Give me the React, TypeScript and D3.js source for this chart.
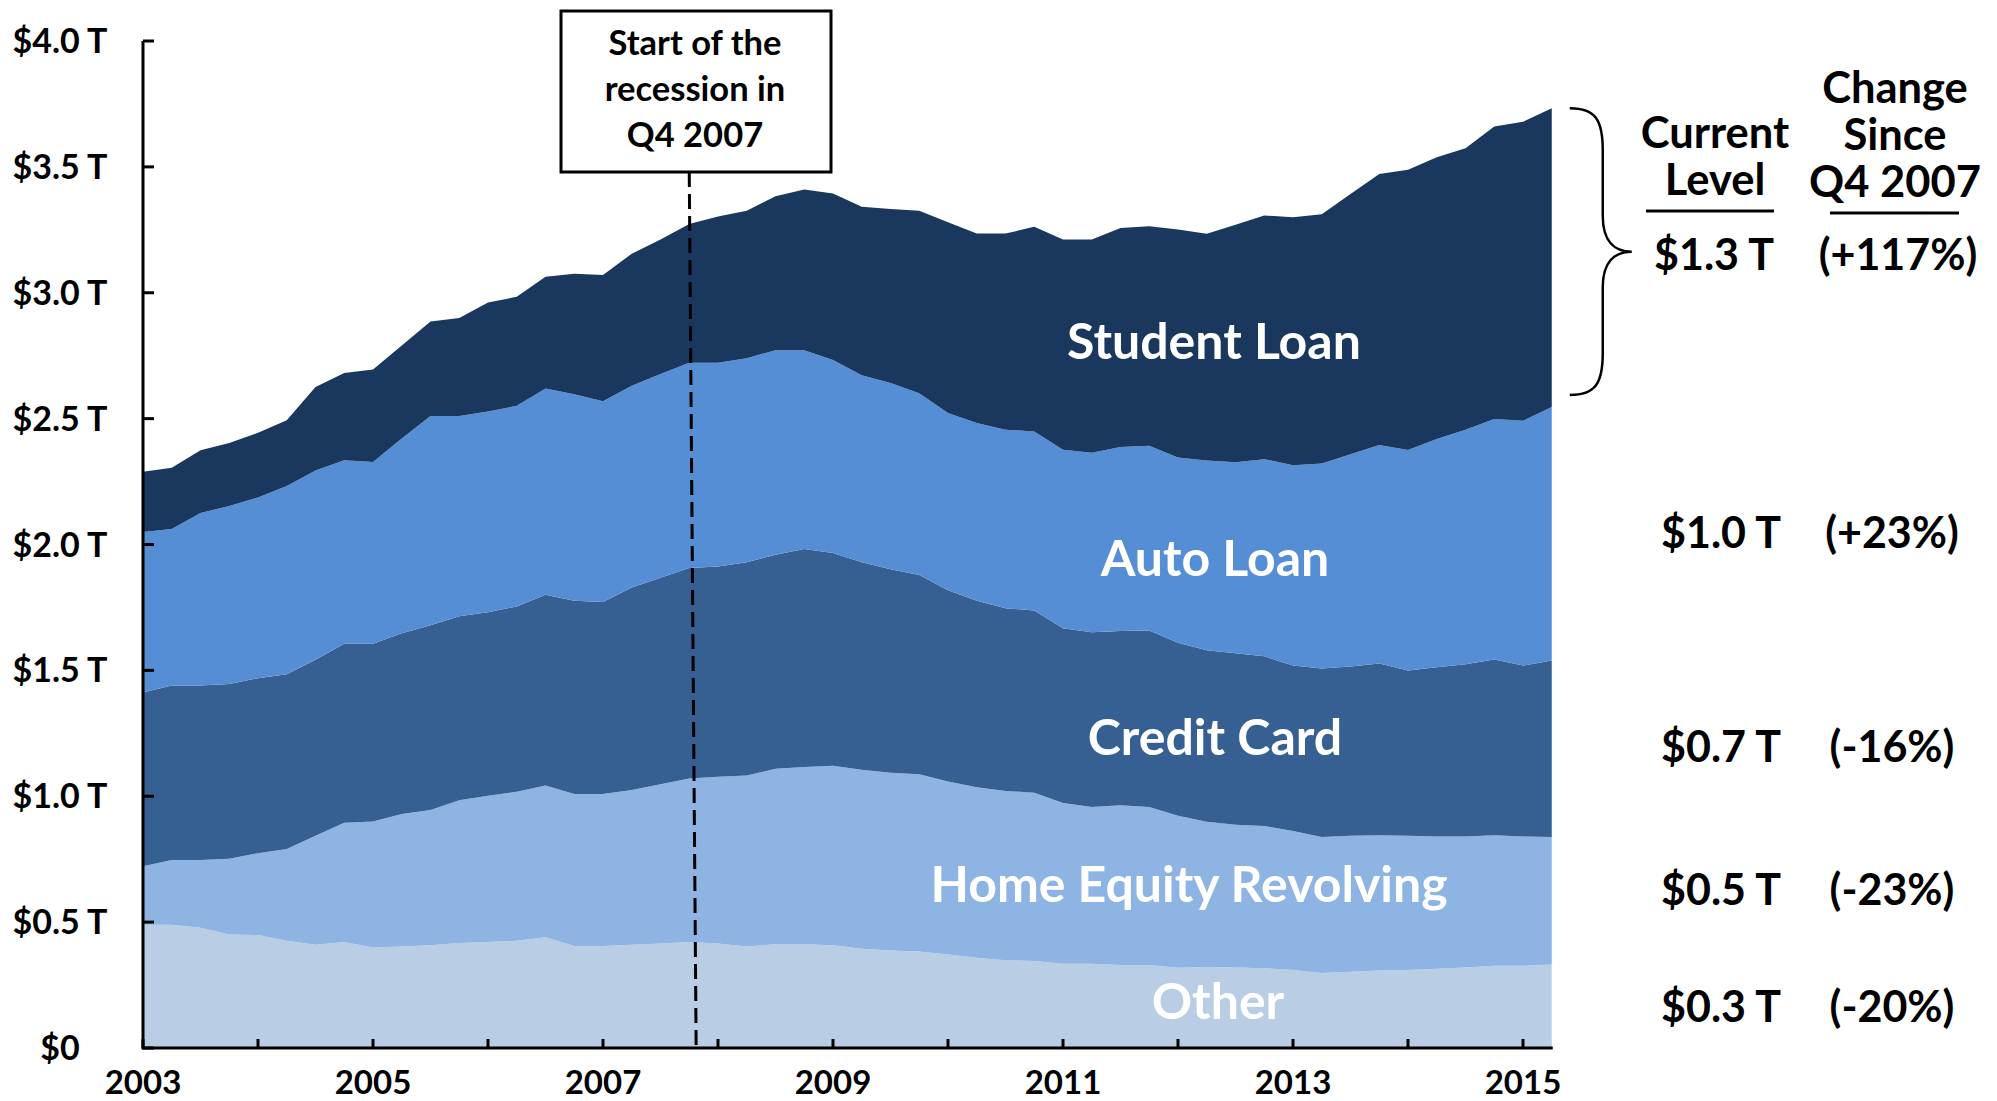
import React from "react";
import * as d3 from "d3";

// ---------- DATA (trillions of dollars, quarterly 2003 Q1 .. 2015 Q2) ----------
const quarters = [
  "2003 Q1","2003 Q2","2003 Q3","2003 Q4","2004 Q1","2004 Q2","2004 Q3","2004 Q4",
  "2005 Q1","2005 Q2","2005 Q3","2005 Q4","2006 Q1","2006 Q2","2006 Q3","2006 Q4",
  "2007 Q1","2007 Q2","2007 Q3","2007 Q4","2008 Q1","2008 Q2","2008 Q3","2008 Q4",
  "2009 Q1","2009 Q2","2009 Q3","2009 Q4","2010 Q1","2010 Q2","2010 Q3","2010 Q4",
  "2011 Q1","2011 Q2","2011 Q3","2011 Q4","2012 Q1","2012 Q2","2012 Q3","2012 Q4",
  "2013 Q1","2013 Q2","2013 Q3","2013 Q4","2014 Q1","2014 Q2","2014 Q3","2014 Q4",
  "2015 Q1","2015 Q2",
];

const other = [0.490,0.490,0.478,0.451,0.449,0.426,0.410,0.421,0.399,0.403,0.408,0.417,0.421,0.426,0.440,0.405,0.405,0.410,0.415,0.421,0.415,0.403,0.412,0.412,0.408,0.394,0.387,0.383,0.371,0.358,0.349,0.346,0.335,0.335,0.330,0.330,0.319,0.322,0.320,0.317,0.310,0.298,0.303,0.308,0.310,0.315,0.320,0.327,0.327,0.332];
const homeEquity = [0.232,0.257,0.269,0.301,0.325,0.364,0.433,0.474,0.501,0.526,0.537,0.567,0.581,0.592,0.603,0.604,0.604,0.615,0.633,0.650,0.662,0.679,0.697,0.704,0.713,0.711,0.706,0.704,0.688,0.678,0.672,0.668,0.638,0.622,0.634,0.627,0.604,0.577,0.567,0.565,0.552,0.540,0.540,0.537,0.533,0.525,0.520,0.518,0.513,0.506];
const creditCard = [0.690,0.693,0.693,0.694,0.695,0.695,0.699,0.711,0.706,0.718,0.734,0.731,0.729,0.736,0.757,0.768,0.763,0.804,0.820,0.836,0.836,0.847,0.850,0.866,0.845,0.824,0.809,0.792,0.759,0.741,0.726,0.724,0.694,0.694,0.692,0.701,0.687,0.681,0.681,0.674,0.657,0.669,0.672,0.682,0.657,0.672,0.684,0.698,0.679,0.701];
const autoLoan = [0.638,0.622,0.685,0.707,0.718,0.747,0.752,0.729,0.722,0.774,0.831,0.795,0.797,0.797,0.820,0.820,0.797,0.802,0.809,0.815,0.809,0.811,0.813,0.790,0.767,0.743,0.740,0.722,0.704,0.706,0.709,0.711,0.709,0.713,0.731,0.734,0.736,0.754,0.759,0.783,0.796,0.815,0.843,0.868,0.875,0.907,0.932,0.956,0.973,1.007];
const studentLoan = [0.239,0.243,0.249,0.250,0.257,0.262,0.332,0.346,0.367,0.369,0.376,0.390,0.433,0.433,0.444,0.478,0.502,0.524,0.535,0.551,0.581,0.586,0.611,0.638,0.661,0.670,0.691,0.725,0.758,0.752,0.779,0.813,0.836,0.848,0.870,0.872,0.905,0.900,0.943,0.968,0.985,0.990,1.034,1.077,1.114,1.119,1.118,1.161,1.187,1.187];

const seriesKeys = ["other", "homeEquity", "creditCard", "autoLoan", "studentLoan"];
const seriesNames = ["Other", "Home Equity Revolving", "Credit Card", "Auto Loan", "Student Loan"];
const seriesColors = ["#B9CDE5", "#8EB4E3", "#366092", "#558ED5", "#1A375E"];
const currentLevels = ["$0.3 T", "$0.5 T", "$0.7 T", "$1.0 T", "$1.3 T"];
const changeSince = ["(-20%)", "(-23%)", "(-16%)", "(+23%)", "(+117%)"];

const yTickValues = [0, 0.5, 1, 1.5, 2, 2.5, 3, 3.5, 4];
const yTickLabels = ["$0", "$0.5 T", "$1.0 T", "$1.5 T", "$2.0 T", "$2.5 T", "$3.0 T", "$3.5 T", "$4.0 T"];
const xTickYears = [2003, 2004, 2005, 2006, 2007, 2008, 2009, 2010, 2011, 2012, 2013, 2014, 2015];
const xLabelYears = [2003, 2005, 2007, 2009, 2011, 2013, 2015];
const recessionStart = "2007 Q4";
const annotationLines = ["Start of the", "recession in", "Q4 2007"];

const FONT = "Lato, 'Noto Sans', sans-serif";

function qTime(q: string) {
  return +q.slice(0, 4) + (+q.slice(-1) - 1) / 4;
}

export default function App() {
  const W = 1997, H = 1101;
  const x = d3.scaleLinear().domain([2003, 2015.25]).range([143, 1551.75]);
  const y = d3.scaleLinear().domain([0, 4]).range([1048, 41]);

  const cols: Record<string, number[]> = { other, homeEquity, creditCard, autoLoan, studentLoan };
  const rows = quarters.map((q, i) => {
    const r: any = { t: qTime(q) };
    seriesKeys.forEach((k) => (r[k] = cols[k][i]));
    return r;
  });
  const stacked = d3.stack<any>().keys(seriesKeys)(rows);
  const area = d3
    .area<any>()
    .x((d) => x(d.data.t))
    .y0((d) => y(d[0]))
    .y1((d) => y(d[1]))
    .curve(d3.curveLinear);

  const last = rows.length - 1;
  const x0 = x.range()[0];
  const xEnd = x(rows[last].t);
  const yBase = y(0);

  // brace around the student-loan band at the right edge
  const bTop = y(stacked[4][last][1]);
  const bBot = y(stacked[4][last][0]) - 12;
  const bMid = (bTop + bBot) / 2;
  const bx0 = xEnd + 18, bx1 = bx0 + 33, bx2 = bx0 + 62;
  const bracePath = `M ${bx0} ${bTop} C ${bx0 + 26} ${bTop}, ${bx1} ${bTop + 12}, ${bx1} ${bTop + 42}
    L ${bx1} ${bMid - 36} C ${bx1} ${bMid - 10}, ${bx1 + 12} ${bMid}, ${bx2} ${bMid}
    C ${bx1 + 12} ${bMid}, ${bx1} ${bMid + 10}, ${bx1} ${bMid + 36}
    L ${bx1} ${bBot - 42} C ${bx1} ${bBot - 12}, ${bx0 + 26} ${bBot}, ${bx0} ${bBot}`;

  const recT = qTime(recessionStart);
  const boxX = 561, boxY = 11, boxW = 270, boxH = 161;

  // label placement for in-chart series names (center x, baseline y)
  const labelPos = [
    [1218, 1019],
    [1189, 902],
    [1215, 755],
    [1215, 576],
    [1214, 359],
  ];
  const valueRows = [1022, 905, 762, 548, 270];
  const col1 = 1719, col2 = 1892;

  return (
    <svg
      width={W}
      height={H}
      viewBox={`0 0 ${W} ${H}`}
      style={{ position: "absolute", left: 0, top: 0, background: "#fff" }}
      fontFamily={FONT}
      fontWeight={700}
    >
      <rect x={0} y={0} width={W} height={H} fill="#fff" />
      {/* stacked areas */}
      {stacked.map((s, i) => (
        <path key={s.key} d={area(s) || ""} fill={seriesColors[i]} stroke="none" />
      ))}

      {/* recession dashed line */}
      <line
        x1={x(recT)}
        y1={boxY + boxH}
        x2={x(recT + 0.06)}
        y2={yBase}
        stroke="#000"
        strokeWidth={3}
        strokeDasharray="15 7"
      />
      <rect x={boxX} y={boxY} width={boxW} height={boxH} fill="#fff" stroke="#000" strokeWidth={3} />
      {annotationLines.map((t, i) => (
        <text key={t} x={boxX + boxW / 2 - 1} y={55 + i * 46} textAnchor="middle" fontSize={34.5} fill="#000">
          {t}
        </text>
      ))}

      {/* axes */}
      <line x1={x0} y1={y(4)} x2={x0} y2={yBase + 1.5} stroke="#000" strokeWidth={3} />
      <line x1={x0} y1={yBase} x2={xEnd + 1} y2={yBase} stroke="#000" strokeWidth={3} />
      {yTickValues.map((v, i) => (
        <g key={v}>
          <line x1={x0} x2={x0 + 11} y1={y(v)} y2={y(v)} stroke="#000" strokeWidth={3} />
          <text x={60} y={y(v) + 12} textAnchor="middle" fontSize={34} fill="#000">
            {yTickLabels[i]}
          </text>
        </g>
      ))}
      {xTickYears.map((yr) => (
        <line key={yr} x1={x(yr)} x2={x(yr)} y1={yBase} y2={yBase - 9} stroke="#000" strokeWidth={3} />
      ))}
      {xLabelYears.map((yr) => (
        <text key={yr} x={x(yr)} y={1094} textAnchor="middle" fontSize={33} fill="#000">
          {yr}
        </text>
      ))}

      {/* series labels */}
      {seriesNames.map((n, i) => (
        <text key={n} x={labelPos[i][0]} y={labelPos[i][1]} textAnchor="middle" fontSize={50} fill="#fff">
          {n}
        </text>
      ))}

      {/* brace */}
      <path d={bracePath} fill="none" stroke="#000" strokeWidth={2.5} />

      {/* right-side table */}
      <text x={col1 - 4} y={148} textAnchor="middle" fontSize={43.5} fill="#000">Current</text>
      <text x={col1 - 4} y={195} textAnchor="middle" fontSize={43.5} fill="#000">Level</text>
      <line x1={1646} x2={1774} y1={211} y2={211} stroke="#000" strokeWidth={3} />
      <text x={col2 + 3} y={103} textAnchor="middle" fontSize={43.5} fill="#000">Change</text>
      <text x={col2 + 3} y={150} textAnchor="middle" fontSize={43.5} fill="#000">Since</text>
      <text x={col2 + 3} y={197} textAnchor="middle" fontSize={43.5} fill="#000">Q4 2007</text>
      <line x1={1830} x2={1959} y1={213} y2={213} stroke="#000" strokeWidth={3} />
      {valueRows.map((by, i) => (
        <g key={i}>
          <text x={i === 4 ? col1 - 5 : col1 + 2} y={by} textAnchor="middle" fontSize={43} fill="#000">
            {currentLevels[i]}
          </text>
          <text x={i === 4 ? col2 + 6 : col2} y={by} textAnchor="middle" fontSize={43} fill="#000">
            {changeSince[i]}
          </text>
        </g>
      ))}
    </svg>
  );
}
